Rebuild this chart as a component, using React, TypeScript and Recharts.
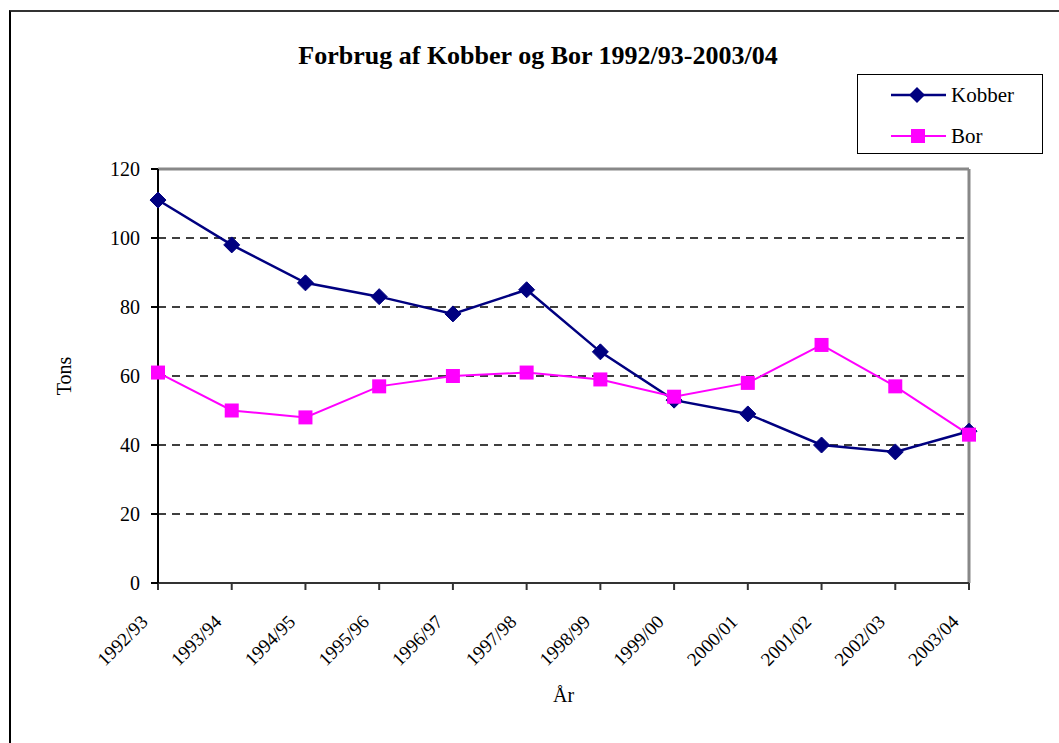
import React from "react";
import {
  LineChart,
  Line,
  XAxis,
  YAxis,
  CartesianGrid,
  ReferenceLine,
  Legend,
  Label,
} from "recharts";

const years = [
  "1992/93", "1993/94", "1994/95", "1995/96", "1996/97", "1997/98",
  "1998/99", "1999/00", "2000/01", "2001/02", "2002/03", "2003/04",
];
const kobber = [111, 98, 87, 83, 78, 85, 67, 53, 49, 40, 38, 44];
const bor = [61, 50, 48, 57, 60, 61, 59, 54, 58, 69, 57, 43];
const yTicks = [0, 20, 40, 60, 80, 100, 120];

const data = years.map((year, i) => ({ year, Kobber: kobber[i], Bor: bor[i] }));

const FONT = "'Liberation Serif', 'Times New Roman', serif";
const NAVY = "#000080";
const MAGENTA = "#FF00FF";

const Diamond = (props: any) => {
  const { cx, cy } = props;
  if (cx == null || cy == null) return null;
  return (
    <polygon
      points={`${cx},${cy - 8} ${cx + 8},${cy} ${cx},${cy + 8} ${cx - 8},${cy}`}
      fill={NAVY}
      stroke={NAVY}
    />
  );
};

const Square = (props: any) => {
  const { cx, cy } = props;
  if (cx == null || cy == null) return null;
  return <rect x={cx - 7} y={cy - 7} width={14} height={14} fill={MAGENTA} />;
};

const XTick = (props: any) => {
  const { x, y, payload } = props;
  return (
    <g transform={`translate(${x - 9},${y + 33})`}>
      <text
        x={0}
        y={0}
        transform="rotate(-45)"
        textAnchor="end"
        style={{ fontFamily: FONT, fontSize: 19 }}
        fill="#000"
      >
        {payload.value}
      </text>
    </g>
  );
};

const LegendBox = () => (
  <div
    style={{
      width: 186,
      height: 80,
      border: "1px solid #000",
      background: "#fff",
      boxSizing: "border-box",
      position: "relative",
    }}
  >
    <svg width={186} height={80} style={{ position: "absolute", left: 0, top: 0 }}>
      <line x1={33} y1={20} x2={88} y2={20} stroke={NAVY} strokeWidth={2.5} />
      <polygon points="59,12 67,20 59,28 51,20" fill={NAVY} />
      <text x={93} y={27} style={{ fontFamily: FONT, fontSize: 21 }} fill="#000">Kobber</text>
      <line x1={33} y1={61} x2={88} y2={61} stroke={MAGENTA} strokeWidth={2} />
      <rect x={53} y={54} width={14} height={14} fill={MAGENTA} />
      <text x={93} y={68} style={{ fontFamily: FONT, fontSize: 21 }} fill="#000">Bor</text>
    </svg>
  </div>
);

export default function App() {
  return (
    <div
      style={{
        position: "fixed",
        left: 0,
        top: 0,
        width: 1059,
        height: 743,
        overflow: "hidden",
        background: "#fff",
        fontFamily: FONT,
      }}
    >
      <div
        style={{
          position: "absolute",
          left: 9,
          top: 10,
          width: 1100,
          height: 800,
          borderLeft: "2px solid #000",
          borderTop: "2px solid #333",
        }}
      />
      <div
        style={{
          position: "absolute",
          left: 0,
          top: 41,
          width: 1076,
          textAlign: "center",
          fontFamily: FONT,
          fontWeight: "bold",
          fontSize: 26,
        }}
      >
        Forbrug af Kobber og Bor 1992/93-2003/04
      </div>
      <div style={{ position: "absolute", left: 0, top: 0 }}>
        <LineChart
          width={1059}
          height={743}
          data={data}
          margin={{ top: 169, right: 90, bottom: 100, left: 58 }}
        >
          <CartesianGrid vertical={false} stroke="#000" strokeWidth={1.3} strokeDasharray="8 6" />
          <XAxis
            dataKey="year"
            height={60}
            tick={<XTick />}
            tickSize={7}
            tickMargin={0}
            interval={0}
            stroke="#333"
            strokeWidth={2}
            tickLine={{ stroke: "#333", strokeWidth: 2 }}
          >
            <Label
              value="År"
              position="insideBottom"
              offset={-59}
              style={{ fontFamily: FONT, fontSize: 20, fill: "#000" }}
            />
          </XAxis>
          <YAxis
            width={100}
            domain={[0, 120]}
            ticks={yTicks}
            tickSize={7}
            tickMargin={11}
            stroke="#000"
            strokeWidth={2}
            tick={{ style: { fontFamily: FONT, fontSize: 20 }, fill: "#000" }}
          >
            <Label
              value="Tons"
              angle={-90}
              position="insideLeft"
              offset={6}
              style={{ fontFamily: FONT, fontSize: 20, fill: "#000", textAnchor: "middle" }}
            />
          </YAxis>
          <ReferenceLine y={120} stroke="#888" strokeWidth={3} />
          <ReferenceLine x="2003/04" stroke="#888" strokeWidth={3} />
          <Legend
            layout="horizontal"
            align="center"
            verticalAlign="middle"
            content={<LegendBox />}
            wrapperStyle={{ position: "absolute", left: 857, top: 74, width: 186, height: 80 }}
          />
          <Line
            type="linear"
            dataKey="Kobber"
            stroke={NAVY}
            strokeWidth={2.5}
            dot={<Diamond />}
            activeDot={false}
            isAnimationActive={false}
          />
          <Line
            type="linear"
            dataKey="Bor"
            stroke={MAGENTA}
            strokeWidth={2}
            dot={<Square />}
            activeDot={false}
            isAnimationActive={false}
          />
        </LineChart>
      </div>
    </div>
  );
}
